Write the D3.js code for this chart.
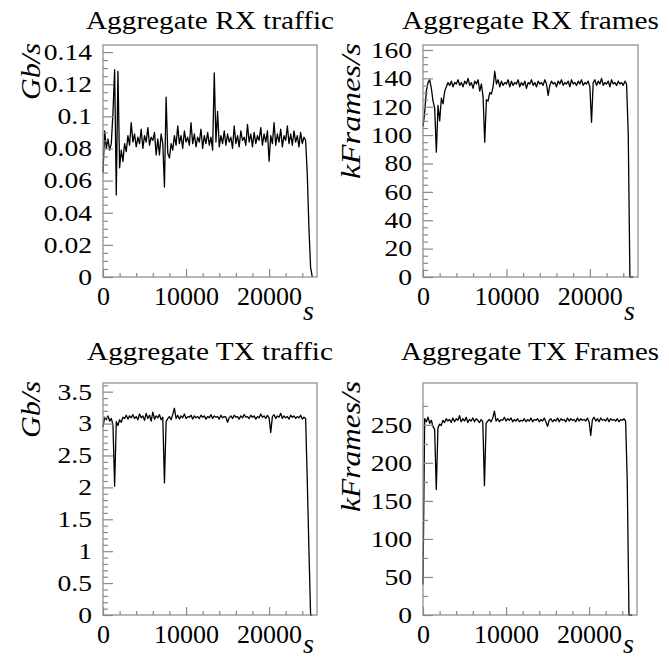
<!DOCTYPE html>
<html>
<head>
<meta charset="utf-8">
<script src="https://cdn.jsdelivr.net/npm/d3@7"></script>
<style>
  body { margin: 0; background: #fff; }
  text { font-family: "Liberation Serif", "Times New Roman", serif; fill: #000; }
</style>
</head>
<body>
<svg id="chart" width="669" height="658"></svg>
<script>
// Sample times (s), shared by all four series.
const TIMES = [
  0, 200, 400, 600, 800, 1000, 1200, 1400, 1600, 1800,
  2000, 2200, 2400, 2600, 2800, 3000, 3200, 3400, 3600, 3800,
  4000, 4200, 4400, 4600, 4800, 5000, 5200, 5400, 5600, 5800,
  6000, 6200, 6400, 6600, 6800, 7000, 7200, 7400, 7600, 7800,
  8000, 8200, 8400, 8600, 8800, 9000, 9200, 9400, 9600, 9800,
  10000, 10200, 10400, 10600, 10800, 11000, 11200, 11400, 11600, 11800,
  12000, 12200, 12400, 12600, 12800, 13000, 13200, 13400, 13600, 13800,
  14000, 14200, 14400, 14600, 14800, 15000, 15200, 15400, 15600, 15800,
  16000, 16200, 16400, 16600, 16800, 17000, 17200, 17400, 17600, 17800,
  18000, 18200, 18400, 18600, 18800, 19000, 19200, 19400, 19600, 19800,
  20000, 20200, 20400, 20600, 20800, 21000, 21200, 21400, 21600, 21800,
  22000, 22200, 22400, 22600, 22800, 23000, 23200, 23400, 23600, 23800,
  24000, 24200, 24400, 24600, 24800, 25000, 25200
];

// Aggregate RX traffic, Gb/s
const RX_GBPS = [
  0.065, 0.091, 0.080, 0.086, 0.079, 0.083, 0.102, 0.129, 0.051, 0.128,
  0.068, 0.079, 0.072, 0.083, 0.078, 0.088, 0.082, 0.096, 0.084, 0.089,
  0.081, 0.087, 0.083, 0.092, 0.080, 0.088, 0.084, 0.093, 0.082, 0.087,
  0.085, 0.090, 0.076, 0.086, 0.076, 0.089, 0.083, 0.056, 0.112, 0.077,
  0.074, 0.083, 0.079, 0.088, 0.082, 0.094, 0.083, 0.088, 0.080, 0.091,
  0.084, 0.087, 0.082, 0.096, 0.083, 0.089, 0.081, 0.087, 0.084, 0.092,
  0.080, 0.088, 0.083, 0.090, 0.082, 0.087, 0.079, 0.127, 0.084, 0.103,
  0.081, 0.088, 0.083, 0.091, 0.082, 0.089, 0.084, 0.087, 0.080, 0.094,
  0.083, 0.088, 0.081, 0.091, 0.085, 0.087, 0.082, 0.095, 0.084, 0.089,
  0.081, 0.090, 0.083, 0.088, 0.085, 0.093, 0.082, 0.089, 0.084, 0.091,
  0.072, 0.088, 0.083, 0.096, 0.082, 0.089, 0.084, 0.092, 0.081, 0.088,
  0.085, 0.094, 0.083, 0.089, 0.082, 0.091, 0.084, 0.088, 0.081, 0.090,
  0.083, 0.087, 0.085, 0.064, 0.030, 0.006, 0
];

// Aggregate RX frames, kFrames/s
const RX_KFPS = [
  106, 116, 131, 137, 139, 133, 124, 119, 88, 121,
  110, 126, 122, 131, 134, 137, 135, 138, 134, 137,
  136, 139, 135, 137, 134, 138, 136, 140, 135, 137,
  133, 138, 136, 139, 131, 136, 127, 95, 125, 124,
  130, 129, 134, 145, 136, 139, 134, 138, 135, 137,
  136, 139, 134, 138, 135, 137, 136, 139, 134, 137,
  135, 138, 133, 137, 136, 139, 135, 137, 134, 138,
  136, 137, 135, 139, 136, 128, 135, 138, 136, 137,
  134, 138, 136, 139, 135, 137, 136, 138, 134, 139,
  136, 137, 135, 138, 136, 139, 135, 137, 136, 138,
  134, 109, 137, 139, 135, 138, 136, 140, 135, 137,
  136, 138, 134, 139, 136, 137, 135, 138, 136, 137,
  135, 138, 136, 101, 0, 0, 0
];

// Aggregate TX traffic, Gb/s
const TX_GBPS = [
  2.95, 3.10, 3.06, 3.12, 3.04, 3.08, 2.98, 2.02, 3.03, 2.97,
  3.06, 3.02, 3.10, 3.08, 3.13, 3.07, 3.12, 3.09, 3.14, 3.08,
  3.11, 3.06, 3.15, 3.09, 3.12, 3.05, 3.16, 3.08, 3.13, 3.04,
  3.18, 3.07, 3.12, 3.09, 3.14, 3.06, 3.10, 2.07, 3.03, 3.08,
  3.11, 3.06, 3.14, 3.24, 3.08, 3.13, 3.07, 3.12, 3.09, 3.15,
  3.08, 3.11, 3.10, 3.13, 3.07, 3.12, 3.09, 3.11, 3.08, 3.13,
  3.10, 3.12, 3.07, 3.11, 3.09, 3.14, 3.08, 3.12, 3.10, 3.11,
  3.07, 3.13, 3.09, 3.11, 3.10, 3.02, 3.09, 3.12, 3.08, 3.13,
  3.10, 3.11, 3.07, 3.12, 3.09, 3.14, 3.10, 3.11, 3.08, 3.13,
  3.10, 3.12, 3.07, 3.11, 3.09, 3.15, 3.10, 3.12, 3.08, 3.13,
  3.09, 2.86, 3.11, 3.14, 3.08, 3.12, 3.10, 3.16, 3.08, 3.12,
  3.09, 3.11, 3.07, 3.13, 3.10, 3.12, 3.08, 3.11, 3.09, 3.13,
  3.07, 3.10, 3.08, 2.10, 1.02, 0, 0
];

// Aggregate TX frames, kFrames/s
const TX_KFPS = [
  40, 258, 254, 260, 252, 256, 248, 244, 165, 246,
  251, 249, 256, 253, 258, 255, 257, 253, 259, 254,
  258, 256, 262, 254, 258, 255, 260, 253, 257, 255,
  259, 254, 258, 256, 253, 257, 254, 170, 252, 255,
  257, 254, 259, 268, 255, 258, 254, 257, 256, 260,
  255, 258, 256, 259, 254, 257, 255, 258, 254, 256,
  255, 258, 254, 257, 255, 259, 254, 257, 256, 258,
  254, 257, 255, 259, 254, 248, 256, 258, 254, 257,
  255, 259, 254, 258, 256, 257, 254, 259, 255, 258,
  256, 257, 254, 259, 255, 258, 256, 257, 255, 259,
  254, 236, 257, 260, 255, 258, 254, 259, 256, 257,
  255, 259, 254, 258, 256, 257, 255, 258, 254, 257,
  256, 258, 255, 174, 0, 0, 0
];

// Axis ticks and labels
const X_TICKS = [0, 10000, 20000];
const X_TICK_LABELS = ["0", "10000", "20000"];
const X_MINOR_STEP = 2000;

const RX_GBPS_TICKS = [0, 0.02, 0.04, 0.06, 0.08, 0.1, 0.12, 0.14];
const RX_GBPS_LABELS = ["0", "0.02", "0.04", "0.06", "0.08", "0.1", "0.12", "0.14"];
const RX_KFPS_TICKS = [0, 20, 40, 60, 80, 100, 120, 140, 160];
const RX_KFPS_LABELS = ["0", "20", "40", "60", "80", "100", "120", "140", "160"];
const TX_GBPS_TICKS = [0, 0.5, 1, 1.5, 2, 2.5, 3, 3.5];
const TX_GBPS_LABELS = ["0", "0.5", "1", "1.5", "2", "2.5", "3", "3.5"];
const TX_KFPS_TICKS = [0, 50, 100, 150, 200, 250];
const TX_KFPS_LABELS = ["0", "50", "100", "150", "200", "250"];

const TITLES = ["Aggregate RX traffic", "Aggregate RX frames", "Aggregate TX traffic", "Aggregate TX Frames"];
const Y_TITLES = ["Gb/s", "kFrames/s", "Gb/s", "kFrames/s"];

// Layout of the four pads
const X_MAX = 25770;
const Y_LABEL_STRETCH = 1.2;
const PADS = [
  { left: 103, top: 45, width: 214, height: 232, yMax: 0.1444, minors: 4, titleY: 29, titleLen: 248, yTitleLen: 57, sY: 43,
    values: RX_GBPS, ticks: RX_GBPS_TICKS, labels: RX_GBPS_LABELS },
  { left: 423, top: 45, width: 215, height: 232, yMax: 163.5, minors: 4, titleY: 29, titleLen: 257, yTitleLen: 136, sY: 43,
    values: RX_KFPS, ticks: RX_KFPS_TICKS, labels: RX_KFPS_LABELS },
  { left: 103, top: 383, width: 214, height: 232, yMax: 3.636, minors: 5, titleY: 360, titleLen: 246, yTitleLen: 57, sY: 38,
    values: TX_GBPS, ticks: TX_GBPS_TICKS, labels: TX_GBPS_LABELS },
  { left: 423, top: 383, width: 214, height: 232, yMax: 305, minors: 2, titleY: 360, titleLen: 258, yTitleLen: 131, sY: 38,
    values: TX_KFPS, ticks: TX_KFPS_TICKS, labels: TX_KFPS_LABELS }
];

const svg = d3.select("#chart");

PADS.forEach((pad, i) => drawPad(pad, TITLES[i], Y_TITLES[i]));

/**
 * Draws one ROOT-style pad: frame, inside ticks, line and labels.
 */
function drawPad (pad, title, yTitle) {

  const g = svg.append("g").attr("transform", `translate(${pad.left},${pad.top})`);

  const x = d3.scaleLinear().domain([0, X_MAX]).range([0, pad.width]);
  const y = d3.scaleLinear().domain([0, pad.yMax]).range([pad.height, 0]);

  // minor ticks, derived from the major step
  const yStep = pad.ticks[1] - pad.ticks[0];
  const yMinor = d3.range(0, pad.yMax, yStep / pad.minors)
    .filter((v) => Math.abs(v / yStep - Math.round(v / yStep)) > 1e-6);
  const xMinor = d3.range(0, X_MAX, X_MINOR_STEP).filter((v) => v % 10000 !== 0);

  // the line
  const line = d3.line().x((d, k) => x(TIMES[k])).y((d) => y(d));
  g.append("path")
    .datum(pad.values)
    .attr("fill", "none")
    .attr("stroke", "#000")
    .attr("stroke-width", 1.3)
    .attr("stroke-linejoin", "round")
    .attr("d", line);

  // frame
  g.append("rect")
    .attr("width", pad.width).attr("height", pad.height)
    .attr("fill", "none").attr("stroke", "#888").attr("stroke-width", 1.2);

  // y axis
  const yAxis = g.append("g")
    .call(d3.axisLeft(y).tickValues(pad.ticks).tickSize(-10).tickPadding(11)
      .tickFormat((d, k) => pad.labels[k]));
  g.append("g")
    .call(d3.axisLeft(y).tickValues(yMinor).tickSize(-5).tickFormat(""));

  // x axis
  const xAxis = g.append("g").attr("transform", `translate(0,${pad.height})`)
    .call(d3.axisBottom(x).tickValues(X_TICKS).tickSize(-8)
      .tickFormat((d, k) => X_TICK_LABELS[k]));
  g.append("g").attr("transform", `translate(0,${pad.height})`)
    .call(d3.axisBottom(x).tickValues(xMinor).tickSize(-4).tickFormat(""));

  g.selectAll(".domain").remove();
  g.selectAll(".tick line").attr("stroke", "#888").attr("stroke-width", 1.2);

  yAxis.selectAll("text")
    .style("font-size", "23px").attr("font-family", null)
    .attr("x", -11 / Y_LABEL_STRETCH)
    .attr("transform", `scale(${Y_LABEL_STRETCH},1)`);
  xAxis.selectAll("text").style("font-size", "26px").attr("font-family", null)
    .attr("dy", null).attr("y", 28);

  // title
  svg.append("text")
    .attr("x", pad.left + pad.width / 2).attr("y", pad.titleY)
    .attr("text-anchor", "middle")
    .attr("textLength", pad.titleLen).attr("lengthAdjust", "spacingAndGlyphs")
    .style("font-size", "26px")
    .text(title);

  // axis titles
  g.append("text")
    .attr("transform", `translate(${-63},-2) rotate(-90)`)
    .attr("text-anchor", "end")
    .attr("textLength", pad.yTitleLen).attr("lengthAdjust", "spacingAndGlyphs")
    .style("font-size", "28px").style("font-style", "italic")
    .text(yTitle);

  g.append("text")
    .attr("x", pad.width - 3).attr("y", pad.height + pad.sY)
    .attr("text-anchor", "end")
    .style("font-size", "28px").style("font-style", "italic")
    .text("s");
}
</script>
</body>
</html>
